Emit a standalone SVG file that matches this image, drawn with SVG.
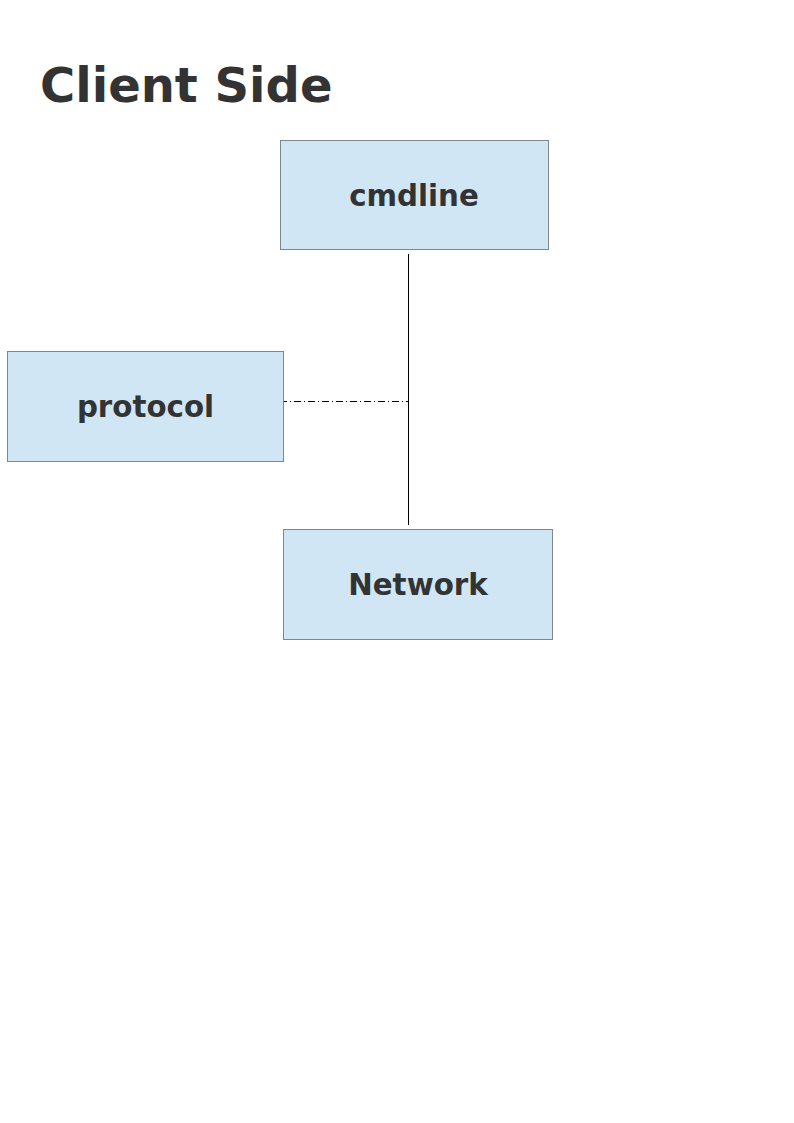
<svg xmlns="http://www.w3.org/2000/svg" width="794" height="1123" viewBox="0 0 794 1123">
<style>
.box{fill:#d0e6f4;stroke:#7f868c;stroke-width:1}
.lbl{font-family:"DejaVu Sans",sans-serif;font-weight:bold;font-size:29.3px;fill:#333333;text-anchor:middle}
.title{font-family:"DejaVu Sans",sans-serif;font-weight:bold;font-size:48px;fill:#333333}
</style>
<rect width="794" height="1123" fill="#ffffff"/>
<text class="title" x="40" y="102">Client Side</text>
<g id="connectors">
<line x1="408.5" y1="254" x2="408.5" y2="525" stroke="#000" stroke-width="1"/>
<line x1="280" y1="401.5" x2="408" y2="401.5" stroke="#000" stroke-width="1" stroke-dasharray="7,3,1,3"/>
</g>
<g id="cmdline">
<rect class="box" x="280.5" y="140.5" width="268" height="109"/>
<text class="lbl" x="414" y="205.5">cmdline</text>
</g>
<g id="protocol">
<rect class="box" x="7.5" y="351.5" width="276" height="110"/>
<text class="lbl" x="145.5" y="417">protocol</text>
</g>
<g id="network">
<rect class="box" x="283.5" y="529.5" width="269" height="110"/>
<text class="lbl" x="418" y="595">Network</text>
</g>
</svg>
